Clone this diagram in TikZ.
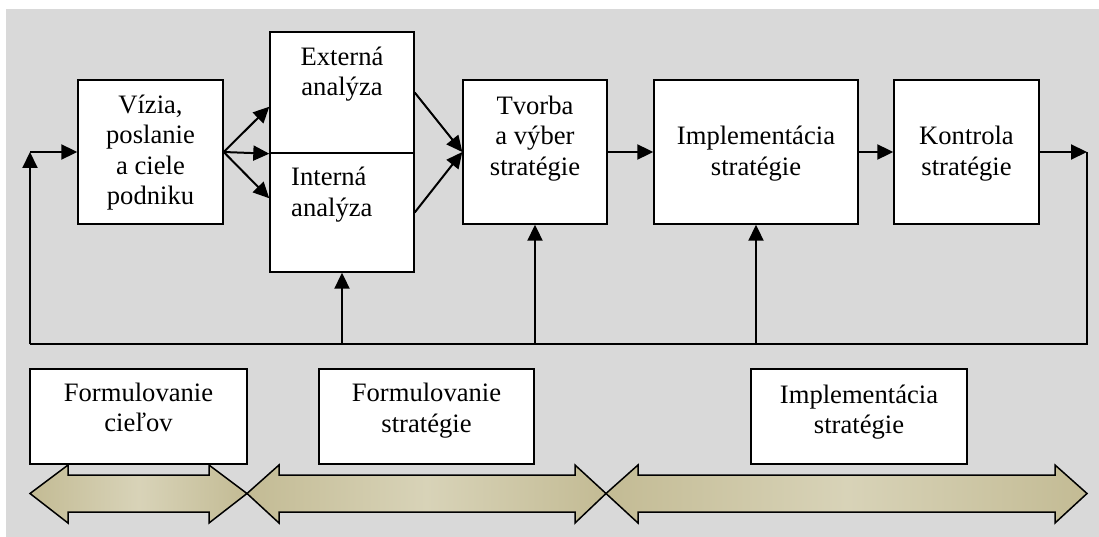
\documentclass[tikz,border=0pt]{standalone}
\usepackage{fontspec}
\setmainfont{Liberation Serif}
\usetikzlibrary{arrows.meta}
\definecolor{panelgray}{HTML}{D9D9D9}
\definecolor{khakiend}{HTML}{C3BB94}
\definecolor{khakimid}{HTML}{D8D3B8}
\begin{document}
\begin{tikzpicture}[x=1pt,y=-1pt,
  box/.style={draw=black, fill=white, line width=1.4pt, inner sep=0pt},
  lbl/.style={font=\fontsize{26.6}{30.5}\selectfont, align=center, inner sep=0pt,
              execute at begin node=\strut, execute at end node=\strut},
  conn/.style={line width=2pt, -{Triangle[length=16pt,width=15pt]}},
  fbline/.style={line width=2pt},
  band/.style={draw=black, line width=1.5pt, line join=miter,
               left color=khakiend, right color=khakiend, middle color=khakimid}]

\useasboundingbox (0,0) rectangle (1099,537);
\fill[panelgray] (6,9) rectangle (1099,537);

% phase bands
\path[band] (30,493.5) -- (68,465) -- (68,475) -- (209,475) -- (209,465) -- (247,493.5)
  -- (209,523) -- (209,512) -- (68,512) -- (68,523) -- cycle;
\path[band] (247,493.5) -- (279,465) -- (279,475) -- (575,475) -- (575,465) -- (606,493.5)
  -- (575,523) -- (575,512) -- (279,512) -- (279,523) -- cycle;
\path[band] (606,493.5) -- (638,465) -- (638,475) -- (1055,475) -- (1055,465) -- (1087,493.5)
  -- (1055,523) -- (1055,512) -- (638,512) -- (638,523) -- cycle;

% process boxes
\node[box, minimum width=145pt, minimum height=144pt] (vizia) at (150.5,152) {};
\node[box, minimum width=144pt, minimum height=121pt] (ext) at (342,92.5) {};
\node[box, minimum width=144pt, minimum height=119pt] (int) at (342,212.5) {};
\node[box, minimum width=144pt, minimum height=144pt] (tvorba) at (535,152) {};
\node[box, minimum width=204pt, minimum height=144pt] (impl) at (756,152) {};
\node[box, minimum width=145pt, minimum height=144pt] (kontrola) at (966.5,152) {};

% phase boxes
\node[box, minimum width=217pt, minimum height=95pt] (fcie) at (138.5,416.5) {};
\node[box, minimum width=215pt, minimum height=95pt] (fstr) at (426.5,416.5) {};
\node[box, minimum width=216pt, minimum height=95pt] (istr) at (859,416.5) {};

% texts
\node[lbl] (tvizia) at (150.5,154.4) {Vízia,\\poslanie\\a ciele\\podniku};
\node[lbl] (text) at (342,75.9) {Externá\\analýza};
\node[lbl, align=left, anchor=west] (tint) at (291,196.4) {Interná\\analýza};
\node[lbl] (ttvorba) at (535,139.9) {Tvorba\\a výber\\stratégie};
\node[lbl] (timpl) at (756,155.4) {Implementácia\\stratégie};
\node[lbl] (tkontrola) at (966.5,155.4) {Kontrola\\stratégie};
\node[lbl] (tfcie) at (138.5,411.9) {Formulovanie\\cieľov};
\node[lbl] (tfstr) at (426.5,412.4) {Formulovanie\\stratégie};
\node[lbl] (tistr) at (859,413.9) {Implementácia\\stratégie};

% feedback loop
\coordinate (fbL) at (30,344);
\coordinate (fbR) at (1087,344);
\coordinate (inL) at (30,152);
\coordinate (outR) at (1087,152);
\coordinate (up1) at (342,344);
\coordinate (up2) at (535,344);
\coordinate (up3) at (756,344);

\draw[conn] (fbL) -- (inL);
\draw[conn] (inL) -- (vizia.west);
\draw[conn] (vizia.east) -- ([yshift=47pt]ext.south west);
\draw[conn] (vizia.east) -- (ext.south west);
\draw[conn] (vizia.east) -- ([yshift=-46pt]int.north west);
\draw[conn] (ext.east) -- (tvorba.west);
\draw[conn] (int.east) -- (tvorba.west);
\draw[conn] (tvorba.east) -- (impl.west);
\draw[conn] (impl.east) -- (kontrola.west);
\draw[conn] (kontrola.east) -- (outR);
\draw[fbline, line join=miter] (outR) -- (fbR) -- (fbL);
\draw[conn] (up1) -- (int.south);
\draw[conn] (up2) -- (tvorba.south);
\draw[conn] (up3) -- (impl.south);
\end{tikzpicture}
\end{document}
